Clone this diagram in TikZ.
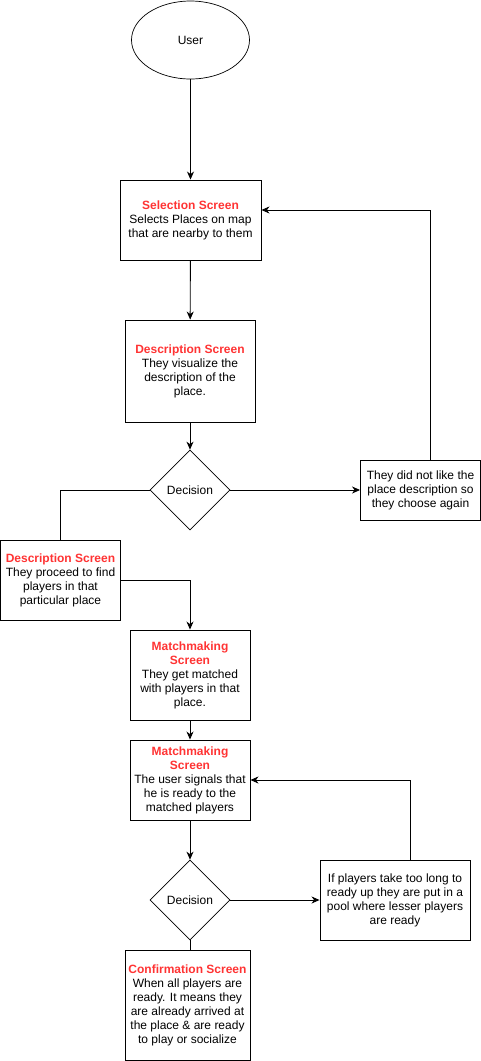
\documentclass[tikz,border=0pt]{standalone}
\usepackage{fontspec}
\setmainfont{Liberation Sans}
\usetikzlibrary{shapes.geometric,arrows.meta}
\definecolor{hdred}{HTML}{FF3333}
\newcommand\screenname[1]{{\color{hdred}\bfseries #1}}
\begin{document}
\begin{tikzpicture}[x=1pt,y=-1pt,
  every node/.style={font=\fontsize{12}{14}\selectfont, align=center, inner sep=0pt},
  box/.style={draw, rectangle, line width=0.9pt},
  choice/.style={draw, diamond, line width=0.7pt, minimum width=80pt, minimum height=80pt},
  link/.style={line width=0.9pt},
  arrowlink/.style={link, -{Stealth[length=8pt,width=7pt,inset=2.5pt]}}]
\useasboundingbox (0,0) rectangle (481,1061);

% start
\node[draw, ellipse, line width=0.7pt, minimum width=118pt, minimum height=78pt] (user) at (190.5,40) {User};

% main column
\node[box, minimum width=141pt, minimum height=80pt] (sel) at (190.5,220)
  {\screenname{Selection Screen}\\Selects Places on map\\that are nearby to them};
\node[box, minimum width=130pt, minimum height=102pt] (desc) at (190,371)
  {\screenname{Description Screen}\\They visualize the\\description of the\\place.};
\node[choice] (dec1) at (190,490) {Decision};
\node[box, minimum width=120pt, minimum height=60pt] (again) at (420.5,490)
  {They did not like the\\place description so\\they choose again};
\node[box, minimum width=120pt, minimum height=80pt] (find) at (60.5,580)
  {\screenname{Description Screen}\\They proceed to find\\players in that\\particular place};
\node[box, minimum width=120pt, minimum height=90pt] (mm1) at (190,675)
  {\screenname{Matchmaking}\\\screenname{Screen}\\They get matched\\with players in that\\place.};
\node[box, minimum width=120pt, minimum height=80pt] (mm2) at (190,780)
  {\screenname{Matchmaking}\\\screenname{Screen}\\The user signals that\\he is ready to the\\matched players};
\node[choice] (dec2) at (190,900) {Decision};
\node[box, minimum width=150pt, minimum height=80pt] (pool) at (395,900)
  {If players take too long to\\ready up they are put in a\\pool where lesser players\\are ready};
\node[box, minimum width=125pt, minimum height=110pt] (conf) at (187.5,1005)
  {\screenname{Confirmation Screen}\\When all players are\\ready. It means they\\are already arrived at\\the place \& are ready\\to play or socialize};

% connectors
\draw[arrowlink] (user) -- (sel);
\draw[arrowlink] (sel) -- (desc);
\draw[arrowlink] (desc) -- (dec1);
\draw[arrowlink] (dec1.east) -- (again.west);
\draw[arrowlink] ([xshift=10pt]again.north) |- ([yshift=10pt]sel.east);
\draw[link] (dec1.west) -| (find.north);
\draw[arrowlink] (find.east) -| (mm1.north);
\draw[arrowlink] (mm1) -- (mm2);
\draw[arrowlink] (mm2) -- (dec2);
\draw[arrowlink] (dec2.east) -- (pool.west);
\draw[arrowlink] ([xshift=15pt]pool.north) |- (mm2.east);
\draw[link] (dec2.south) -- (dec2.south |- conf.north);
\end{tikzpicture}
\end{document}
